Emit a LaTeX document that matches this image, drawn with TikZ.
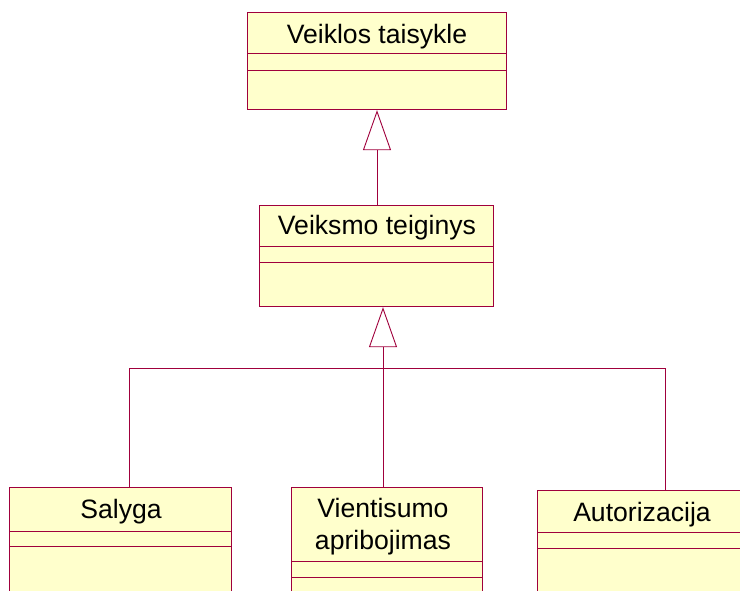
\documentclass[tikz,border=0pt]{standalone}
\usepackage{fontspec}
\setmainfont{Liberation Sans}
\usetikzlibrary{arrows.meta}
\definecolor{umlline}{RGB}{160,0,60}
\definecolor{umlfill}{RGB}{255,255,204}
\tikzset{
  classbox/.style={draw=umlline, fill=umlfill, line width=1.2pt, rectangle,
    inner sep=0pt, anchor=north west},
  classname/.style={anchor=base, inner sep=0pt, font=\fontsize{26.6}{32}\selectfont,
    align=center},
  compartment/.style={draw=umlline, line width=1pt},
  inherit/.style={draw=umlline, line width=0.9pt},
  genarrow/.style={inherit, -{Triangle[open, length=40pt, width=28pt, fill=white]}}
}
\begin{document}
\begin{tikzpicture}[x=1pt, y=1pt]
  \useasboundingbox (0,0) rectangle (740,-591);
  \clip (0,0) rectangle (740,-591);

  % Veiklos taisykle
  \node[classbox, minimum width=259pt, minimum height=97pt] (rule) at (247,-12) {};
  \draw[compartment] (247,-54) -- (506,-54) (247,-71) -- (506,-71);
  \node[classname] (ruleT) at (377,-44) {Veiklos taisykle};

  % Veiksmo teiginys
  \node[classbox, minimum width=234pt, minimum height=101pt] (act) at (259,-205) {};
  \draw[compartment] (259,-247) -- (493,-247) (259,-263) -- (493,-263);
  \node[classname] (actT) at (377,-235) {Veiksmo teiginys};

  % Salyga
  \node[classbox, minimum width=222pt, minimum height=120pt] (cond) at (9,-487) {};
  \draw[compartment] (9,-531) -- (231,-531) (9,-546) -- (231,-546);
  \node[classname] (condT) at (121,-518) {Salyga};

  % Vientisumo apribojimas
  \node[classbox, minimum width=191pt, minimum height=120pt] (integ) at (291,-487) {};
  \draw[compartment] (291,-561) -- (482,-561) (291,-577) -- (482,-577);
  \node[classname] (integT) at (383,-517) {Vientisumo};
  \node[classname] (integT2) at (383,-549) {apribojimas};

  % Autorizacija
  \node[classbox, minimum width=220pt, minimum height=120pt] (auth) at (537,-490) {};
  \draw[compartment] (537,-532) -- (757,-532) (537,-548) -- (757,-548);
  \node[classname] (authT) at (642,-521) {Autorizacija};

  % generalization: Veiksmo teiginys -> Veiklos taisykle
  \coordinate (actTop) at (377,-205);
  \draw[genarrow] (actTop) -- (actTop |- rule.south);

  % generalization tree: three subclasses -> Veiksmo teiginys
  \coordinate (fork) at (383,-368);
  \coordinate (condStem) at (129,-368);
  \coordinate (authStem) at (665,-368);
  \draw[inherit] (condStem) -- (authStem);
  \draw[inherit] (condStem) -- (condStem |- cond.north);
  \draw[inherit] (fork) -- (fork |- integ.north);
  \draw[inherit] (authStem) -- (authStem |- auth.north);
  \draw[genarrow] (fork) -- (fork |- act.south);
\end{tikzpicture}
\end{document}
